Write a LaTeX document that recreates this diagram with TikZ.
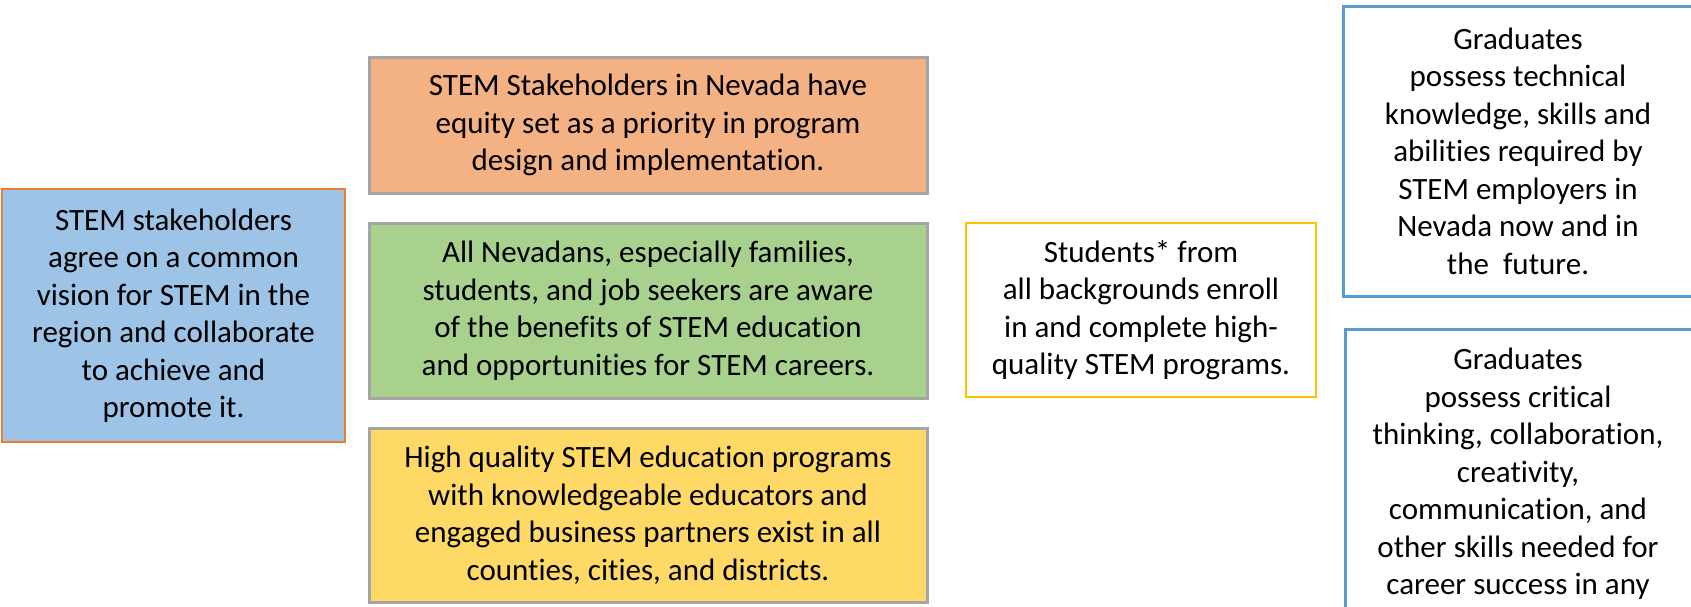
\documentclass[tikz,border=0pt]{standalone}
\usepackage{fontspec}
\setmainfont{Carlito}[Ligatures=NoCommon]
\definecolor{lblue}{HTML}{9DC3E6}
\definecolor{lorange}{HTML}{F4B183}
\definecolor{lgreen}{HTML}{A9D18E}
\definecolor{lyellow}{HTML}{FFD966}
\definecolor{bgray}{HTML}{A5A5A5}
\definecolor{borange}{HTML}{ED7D31}
\definecolor{bgold}{HTML}{FFC000}
\definecolor{bblue}{HTML}{5B9BD5}
\tikzset{
  box/.style={rectangle, inner sep=0pt, outer sep=0pt, align=center,
    font=\fontsize{31}{37.5}\selectfont, text=black},
  grayedge/.style={box, draw=bgray, line width=3pt},
  txt/.style={inner sep=0pt, outer sep=0pt, align=center,
    font=\fontsize{31}{37.5}\selectfont, text=black}
}
\begin{document}
\begin{tikzpicture}[x=1pt,y=-1pt]
\useasboundingbox (0,0) rectangle (1691,606);
\clip (0,0) rectangle (1691,606);
\fill[white] (0,0) rectangle (1691,606);

\node[box, draw=borange, fill=lblue, line width=2.5pt,
  minimum width=343pt, minimum height=253pt] (vision) at (173.5,315.5)
  {STEM stakeholders\\agree on a common\\vision for STEM in the\\region and collaborate\\to achieve and\\promote it.};

\node[grayedge, fill=lorange, minimum width=558pt, minimum height=136pt]
  (equity) at (648,125)
  {STEM Stakeholders in Nevada have\\equity set as a priority in program\\design and implementation.};

\node[grayedge, fill=lgreen, minimum width=558pt, minimum height=175pt]
  (aware) at (648,310.5)
  {All Nevadans, especially families,\\students, and job seekers are aware\\of the benefits of STEM education\\and opportunities for STEM careers.};

\node[grayedge, fill=lyellow, minimum width=558pt, minimum height=174pt]
  (quality) at (648,515)
  {High quality STEM education programs\\with knowledgeable educators and\\engaged business partners exist in all\\counties, cities, and districts.};

\node[box, draw=bgold, fill=white, line width=2.5pt,
  minimum width=350pt, minimum height=174pt] (students) at (1141,310)
  {Students* from\\all backgrounds enroll\\in and complete high-\\quality STEM programs.};

\node[box, draw=bblue, fill=white, line width=3pt,
  minimum width=350pt, minimum height=290pt] (grad1) at (1518,151)
  {Graduates\\possess technical\\knowledge, skills and\\abilities required by\\STEM employers in\\Nevada now and in\\the\ \ future.};

\draw[bblue, line width=3pt, fill=white] (1345,329) rectangle (1695,700);
\node[txt] (grad2) at (1518,474)
  {Graduates\\possess critical\\thinking, collaboration,\\creativity,\\communication, and\\other skills needed for\\career success in any};
\end{tikzpicture}
\end{document}
